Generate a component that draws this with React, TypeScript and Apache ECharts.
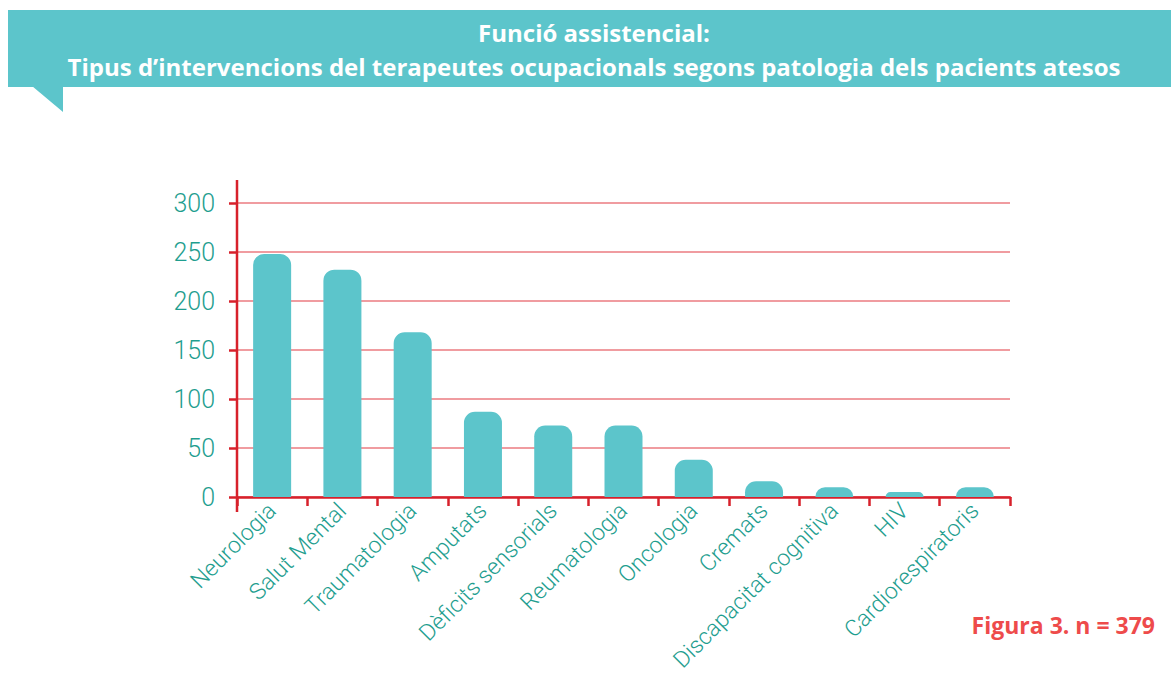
import React, { useEffect, useRef } from "react";
import * as echarts from "echarts";

const categories = [
  "Neurologia",
  "Salut Mental",
  "Traumatologia",
  "Amputats",
  "Dèficits sensorials",
  "Reumatologia",
  "Oncologia",
  "Cremats",
  "Discapacitat cognitiva",
  "HIV",
  "Cardiorespiratoris",
];
const values = [248, 232, 168, 87, 73, 73, 38, 16, 10, 5, 10];
const titleLine1 = "Funció assistencial:";
const titleLine2 = "Tipus d’intervencions del terapeutes ocupacionals segons patologia dels pacients atesos";
const footnote = "Figura 3. n = 379";

const TEAL = "#5cc5cb";
const RED = "#d7212b";
const LABEL = "#1f9e8f";

export default function App() {
  const ref = useRef<HTMLDivElement>(null);
  useEffect(() => {
    if (!ref.current) return;
    const chart = echarts.init(ref.current, undefined, { renderer: "svg" });
    chart.setOption({
      animation: false,
      grid: { left: 237, right: 161, top: 203, bottom: 178, containLabel: false },
      xAxis: {
        type: "category",
        data: categories,
        axisLine: { show: true, lineStyle: { color: RED, width: 2.5 } },
        axisTick: { show: true, length: 9, lineStyle: { color: RED, width: 2.5 } },
        axisLabel: {
          rotate: 45,
          interval: 0,
          margin: 10,
          color: LABEL,
          fontFamily: "Roboto",
          fontWeight: 300,
          fontSize: 23,
        },
      },
      yAxis: {
        type: "value",
        min: 0,
        max: 300,
        interval: 50,
        axisLine: { show: false },
        axisTick: { show: true, length: 8, lineStyle: { color: RED, width: 2.5 } },
        axisLabel: {
          margin: 22,
          color: LABEL,
          fontFamily: "Roboto",
          fontWeight: 300,
          fontSize: 25,
        },
        splitLine: { show: true, lineStyle: { color: "#f09ca0", width: 2 } },
      },
      series: [
        {
          type: "bar",
          data: values,
          barWidth: 38,
          itemStyle: { color: TEAL, borderRadius: [11, 11, 0, 0] },
        },
      ],
      graphic: [
        {
          type: "rect",
          shape: { x: 8, y: 10, width: 1163, height: 77 },
          style: { fill: TEAL },
          silent: true,
        },
        {
          type: "polygon",
          shape: { points: [[32, 86], [63, 86], [63, 112]] },
          style: { fill: TEAL },
          silent: true,
        },
        {
          type: "text",
          x: 594,
          y: 32,
          style: {
            text: titleLine1,
            fill: "#ffffff",
            font: "bold 24px 'Open Sans'",
            textAlign: "center",
            textVerticalAlign: "middle",
          },
        },
        {
          type: "text",
          x: 594,
          y: 66,
          style: {
            text: titleLine2,
            fill: "#ffffff",
            font: "bold 24px 'Open Sans'",
            textAlign: "center",
            textVerticalAlign: "middle",
          },
        },
        {
          type: "line",
          shape: { x1: 237, y1: 180, x2: 237, y2: 512 },
          style: { stroke: RED, lineWidth: 2.5 },
          z: 100,
        },
        {
          type: "text",
          x: 1155,
          y: 625,
          style: {
            text: footnote,
            fill: "#ee4b4b",
            font: "bold 23px 'Open Sans'",
            textAlign: "right",
            textVerticalAlign: "middle",
          },
        },
      ],
    });
    return () => chart.dispose();
  }, []);
  return (
    <div
      ref={ref}
      style={{ position: "fixed", left: 0, top: 0, width: 1171, height: 675, background: "#fff" }}
    />
  );
}
